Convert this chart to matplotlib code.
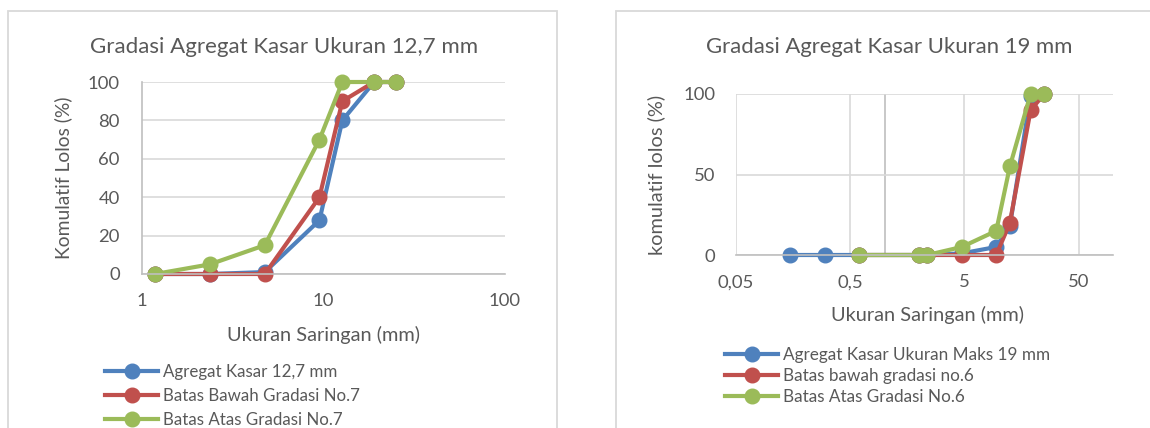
import matplotlib
matplotlib.use('Agg')
import matplotlib.pyplot as plt
from matplotlib.patches import Rectangle

# data
left_sizes = [1.18, 2.36, 4.75, 9.5, 12.7, 19, 25]
left_agregat = [0, 0, 1, 28, 80, 100, 100]
left_bawah = [0, 0, 0, 40, 90, 100, 100]
left_atas = [0, 5, 15, 70, 100, 100, 100]
left_names = ['Agregat Kasar 12,7 mm', 'Batas Bawah Gradasi No.7', 'Batas Atas Gradasi No.7']
left_xticks = [1, 10, 100]
left_xticklabels = ['1', '10', '100']
left_yticks = [0, 20, 40, 60, 80, 100]

right_sizes = [0.15, 0.3, 0.6, 2.0, 2.36, 4.75, 9.5, 12.5, 19, 25]
right_agregat = [0, 0, 0, 0, 0, 1, 5, 18, 99, 100]
right_limit_sizes = [0.6, 2.0, 2.36, 4.75, 9.5, 12.5, 19, 25]
right_bawah = [0, 0, 0, 0, 0, 20, 90, 100]
right_atas = [0, 0, 0, 5, 15, 55, 100, 100]
right_names = ['Agregat Kasar Ukuran Maks 19 mm', 'Batas bawah gradasi no.6', 'Batas Atas Gradasi No.6']
right_xticks = [0.05, 0.5, 5, 50]
right_xticklabels = ['0,05', '0,5', '5', '50']
right_yticks = [0, 50, 100]

colors = ['#4F81BD', '#C0504D', '#9BBB59']
txt = '#595959'
grid = '#D9D9D9'
axcol = '#BFBFBF'

plt.rcParams['font.family'] = ['Lato', 'DejaVu Sans']

W, H = 1150, 428
fig = plt.figure(figsize=(W / 100, H / 100), dpi=100)
rend = fig.canvas.get_renderer()


def box(x0, x1, y0, y1):
    # pixel coords (top-left origin) -> figure fraction
    return [x0 / W, 1 - y1 / H, (x1 - x0) / W, (y1 - y0) / H]


def fit_size(s, target, size=12):
    # font size that makes string s about target px wide
    t = fig.text(0, 0, s, fontsize=size)
    w = t.get_window_extent(rend).width
    t.remove()
    return size * target / w


def text_height(size):
    t = fig.text(0, 0, 'Agx', fontsize=size)
    h = t.get_window_extent(rend).height
    t.remove()
    return h


tick_fs = fit_size('100', 32)
title1_fs = fit_size('Gradasi Agregat Kasar Ukuran 12,7 mm', 384)
title2_fs = fit_size('Gradasi Agregat Kasar Ukuran 19 mm', 365)
xlab_fs = fit_size('Ukuran Saringan (mm)', 193)
ylab1_fs = fit_size('Komulatif Lolos (%)', 163)
ylab2_fs = fit_size('komulatif lolos (%)', 160)
leg1_fs = fit_size(left_names[0], 173)
leg2_fs = fit_size(right_names[0], 265)

# chart borders
fig.patches.append(Rectangle((8 / W, -0.05), (557 - 8) / W, 1.05 - 11 / H, transform=fig.transFigure,
                             fill=False, edgecolor=grid, lw=1.3))
fig.patches.append(Rectangle((616 / W, -0.05), (1165 - 616) / W, 1.05 - 11 / H, transform=fig.transFigure,
                             fill=False, edgecolor=grid, lw=1.3))


def style(ax, vgrid):
    ax.set_xscale('log')
    ax.grid(axis='y', color=grid, lw=1.2)
    if vgrid:
        ax.grid(axis='x', which='major', color=grid, lw=1.2)
    ax.set_axisbelow(True)
    for s in ['top', 'right']:
        ax.spines[s].set_visible(False)
    for s in ['left', 'bottom']:
        ax.spines[s].set_color(axcol)
        ax.spines[s].set_linewidth(1.2)
    ax.tick_params(length=0, labelsize=tick_fs, colors=txt)
    ax.tick_params(axis='y', pad=16)
    ax.tick_params(axis='x', pad=14)
    ax.minorticks_off()


def legend(ax, fs, x_px, ymid_px, pitch_px):
    fs_px = fs * 100 / 72
    sp = (pitch_px - text_height(fs)) / fs_px
    ax.legend(loc='center left', bbox_to_anchor=(x_px / W, 1 - ymid_px / H), bbox_transform=fig.transFigure,
              frameon=False, fontsize=fs, labelcolor=txt, handlelength=53 / fs_px, handletextpad=5 / fs_px,
              labelspacing=sp, borderpad=0, borderaxespad=0)


# left chart
ax1 = fig.add_axes(box(142, 505, 82, 274))
for ys, c, n in zip([left_agregat, left_bawah, left_atas], colors, left_names):
    ax1.plot(left_sizes, ys, '-o', color=c, lw=3, ms=10.5, label=n, clip_on=False)
style(ax1, False)
ax1.set_xlim(1, 100)
ax1.set_ylim(0, 100)
ax1.set_xticks(left_xticks)
ax1.set_xticklabels(left_xticklabels)
ax1.set_yticks(left_yticks)
ax1.set_ylabel('Komulatif Lolos (%)', fontsize=ylab1_fs, color=txt)
ax1.yaxis.set_label_coords(-0.193, 0.5)
ax1.set_xlabel('Ukuran Saringan (mm)', fontsize=xlab_fs, color=txt)
ax1.xaxis.set_label_coords(0.5, -0.27)
fig.text(284 / W, 1 - 47 / H, 'Gradasi Agregat Kasar Ukuran 12,7 mm', fontsize=title1_fs, color=txt,
         ha='center', va='center')
legend(ax1, leg1_fs, 105, 396, 24)

# right chart
ax2 = fig.add_axes(box(736, 1113, 94, 255))
ax2.plot(right_sizes, right_agregat, '-o', color=colors[0], lw=3, ms=10.5, label=right_names[0], clip_on=False)
ax2.plot(right_limit_sizes, right_bawah, '-o', color=colors[1], lw=3, ms=10.5, label=right_names[1], clip_on=False)
ax2.plot(right_limit_sizes, right_atas, '-o', color=colors[2], lw=3, ms=10.5, label=right_names[2], clip_on=False)
style(ax2, True)
ax2.set_xlim(0.05, 100)
ax2.set_ylim(0, 100)
ax2.set_xticks(right_xticks)
ax2.set_xticklabels(right_xticklabels)
ax2.set_yticks(right_yticks)
ax2.tick_params(axis='y', pad=15)
ax2.spines['left'].set_visible(False)
# vertical axis crosses at 1 mm, as in the spreadsheet chart
ax2.axvline(1, color=axcol, lw=1.2, zorder=0.5)
ax2.set_ylabel('komulatif lolos (%)', fontsize=ylab2_fs, color=txt)
ax2.yaxis.set_label_coords(-0.188, 0.5)
ax2.set_xlabel('Ukuran Saringan (mm)', fontsize=xlab_fs, color=txt)
ax2.xaxis.set_label_coords(0.507, -0.317)
fig.text(889 / W, 1 - 47 / H, 'Gradasi Agregat Kasar Ukuran 19 mm', fontsize=title2_fs, color=txt,
         ha='center', va='center')
legend(ax2, leg2_fs, 725, 376, 21)

fig.savefig('out.png', dpi=100)
